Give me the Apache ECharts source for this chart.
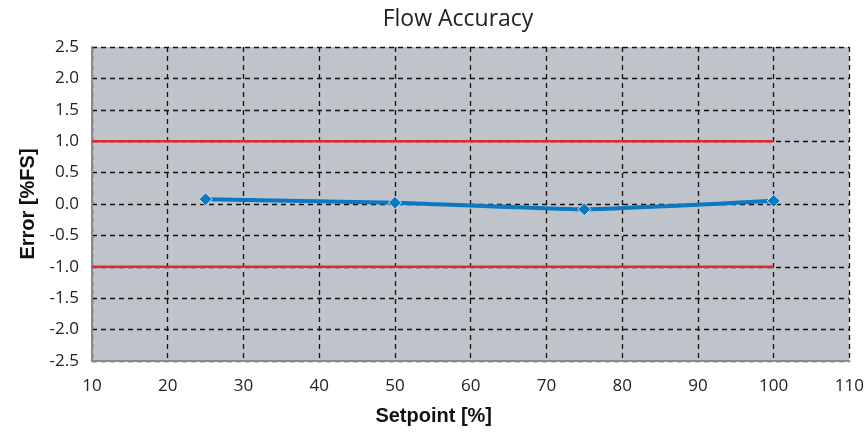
<!DOCTYPE html>
<html><head><meta charset="utf-8">
<script src="https://cdn.jsdelivr.net/npm/echarts@6/dist/echarts.min.js"></script>
<style>html,body{margin:0;padding:0;background:#fff}#c{width:867px;height:435px}</style>
</head><body><div id="c"></div>
<script>
var setpoints = [25, 50, 75, 100];
var errors = [0.075, 0.02, -0.085, 0.05];
var limitX = [10, 100];
var upperLimit = 1.0;
var lowerLimit = -1.0;
var xTicks = [10, 20, 30, 40, 50, 60, 70, 80, 90, 100, 110];
var yTicks = [-2.5, -2.0, -1.5, -1.0, -0.5, 0.0, 0.5, 1.0, 1.5, 2.0, 2.5];

var chart = echarts.init(document.getElementById('c'));
var gridLine = {show: true, lineStyle: {color: '#111', type: [5, 4], width: 1.3}};
chart.setOption({
  animation: false,
  title: {text: 'Flow Accuracy', left: 453, top: 3, textAlign: 'center',
    textStyle: {fontFamily: 'Open Sans', fontWeight: 'normal', fontSize: 23, color: '#222'}},
  grid: {left: 92, top: 47, right: 16, bottom: 74, show: true, backgroundColor: '#bfc4ca', borderWidth: 0},
  xAxis: {type: 'value', min: xTicks[0], max: xTicks[xTicks.length - 1], interval: 10,
    name: 'Setpoint [%]', nameLocation: 'middle', nameGap: 45,
    nameTextStyle: {fontFamily: 'Liberation Sans', fontWeight: 'bold', fontSize: 20, color: '#111',
      padding: [0, 74, 0, 0]},
    axisLine: {show: true, onZero: false, lineStyle: {color: '#858a91', width: 2}},
    axisTick: {show: false},
    axisLabel: {fontFamily: 'Open Sans', fontSize: 17, color: '#222', margin: 17},
    splitLine: gridLine},
  yAxis: {type: 'value', min: yTicks[0], max: yTicks[yTicks.length - 1], interval: 0.5,
    name: 'Error [%FS]', nameLocation: 'middle', nameGap: 53,
    nameTextStyle: {fontFamily: 'Liberation Sans', fontWeight: 'bold', fontSize: 20, color: '#111'},
    axisLine: {show: true, lineStyle: {color: '#858a91', width: 2}},
    axisTick: {show: false},
    axisLabel: {fontFamily: 'Open Sans', fontSize: 17, color: '#222', margin: 13,
      formatter: function (v) { return v.toFixed(1); }},
    splitLine: gridLine},
  series: [
    {type: 'line', data: limitX.map(function (x) { return [x, upperLimit]; }), symbol: 'none',
      lineStyle: {color: '#e8262a', width: 2.5}, z: 3},
    {type: 'line', data: limitX.map(function (x) { return [x, lowerLimit]; }), symbol: 'none',
      lineStyle: {color: '#e8262a', width: 2.5}, z: 3},
    {type: 'line', data: setpoints.map(function (x, i) { return [x, errors[i]]; }),
      smooth: 0.15, symbol: 'diamond', symbolSize: 13,
      lineStyle: {color: '#0a78c2', width: 4},
      itemStyle: {color: '#0a78c2', borderColor: '#dfe8f0', borderWidth: 1}, z: 4}
  ]
});
</script></body></html>
